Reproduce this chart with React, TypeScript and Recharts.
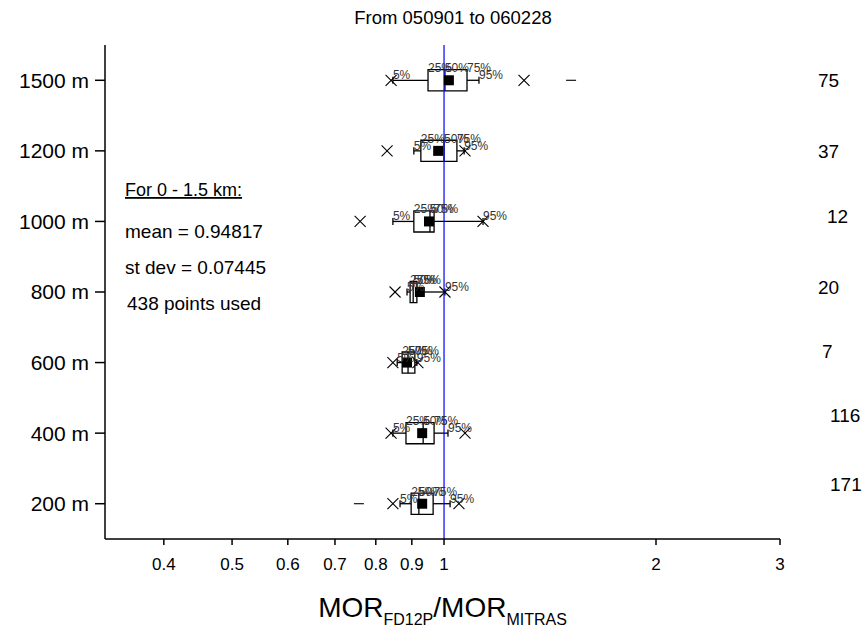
import React from 'react';
import { ScatterChart, Scatter, XAxis, YAxis, ReferenceLine, ReferenceArea } from 'recharts';

// Rows, bottom (index 0) to top (index 6)
const categories = ['200 m', '400 m', '600 m', '800 m', '1000 m', '1200 m', '1500 m'];
const counts = [171, 116, 7, 20, 12, 37, 75];

const p1 = [0.846, 0.841, 0.846, 0.852, 0.760, 0.830, 0.841];
const p5 = [0.866, 0.846, 0.858, 0.886, 0.846, 0.906, 0.846];
const p25 = [0.898, 0.883, 0.872, 0.895, 0.906, 0.927, 0.949];
const p50 = [0.921, 0.934, 0.889, 0.904, 0.955, 1.0, 1.003];
const p75 = [0.965, 0.968, 0.909, 0.915, 0.968, 1.043, 1.078];
const p95 = [1.020, 1.013, 0.915, 1.003, 1.136, 1.068, 1.121];
const p99 = [1.050, 1.071, 0.918, 1.003, 1.136, 1.071, 1.299];
const means = [0.931, 0.931, 0.886, 0.924, 0.952, 0.981, 1.016];
const minVals: (number | null)[] = [0.757, null, null, null, null, null, null];
const maxVals: (number | null)[] = [null, null, null, null, null, null, 1.515];

const xTicks = [0.4, 0.5, 0.6, 0.7, 0.8, 0.9, 1, 2, 3];
const yTicks = [0, 1, 2, 3, 4, 5, 6];

const summaryLines = ['mean = 0.94817', 'st dev = 0.07445', '438 points used'];

// style offsets for the count labels on the right (px)
const countDx = [12, 12, 4, 0, 9, 0, 0];
const countDy = [-19, -18, -11, -5, -5, 0, 0];

const FONT = '"Liberation Sans", Arial, sans-serif';
const NARROW = '"Liberation Sans Narrow", "Liberation Sans", Arial, sans-serif';
const BOX_H = 0.15;
const CAP_H = 0.05;

const idx = categories.map((_, i) => i);

const meanData = idx.map((i) => ({ x: means[i], y: i }));
const crossData = idx.flatMap((i) => [{ x: p1[i], y: i }, { x: p99[i], y: i }]);
const dashData = idx.flatMap((i) => {
  const out: { x: number; y: number }[] = [];
  if (minVals[i] != null) out.push({ x: minVals[i] as number, y: i });
  if (maxVals[i] != null) out.push({ x: maxVals[i] as number, y: i });
  return out;
});
const labelData = idx.flatMap((i) => [
  { x: p5[i], y: i, t: '5%', k: 'end' },
  { x: p25[i], y: i, t: '25%', k: 'mid' },
  { x: p50[i], y: i, t: '50%', k: 'mid' },
  { x: p75[i], y: i, t: '75%', k: 'mid' },
  { x: p95[i], y: i, t: '95%', k: 'end' },
]);

const CrossShape = (p: any) => {
  const { cx, cy } = p;
  const r = 5.5;
  return (
    <g stroke="#000" strokeWidth={1.1}>
      <line x1={cx - r} y1={cy - r} x2={cx + r} y2={cy + r} />
      <line x1={cx - r} y1={cy + r} x2={cx + r} y2={cy - r} />
    </g>
  );
};
const SquareShape = (p: any) => {
  const { cx, cy } = p;
  return <rect x={cx - 5} y={cy - 5} width={10} height={10} fill="#000" />;
};
const DashShape = (p: any) => {
  const { cx, cy } = p;
  return <line x1={cx - 5} y1={cy} x2={cx + 5} y2={cy} stroke="#000" strokeWidth={1.1} />;
};
const LabelShape = (p: any) => {
  const { cx, cy, payload } = p;
  const dy = payload.k === 'mid' ? -8 : -1;
  return (
    <text x={cx} y={cy + dy} fontSize={12} fontFamily={FONT} fill="#333">
      {payload.t}
    </text>
  );
};

const XLabel = (props: any) => {
  const vb = props.viewBox || { x: 105, y: 539, width: 675 };
  const cx = vb.x + vb.width / 2;
  const y = vb.y + 78;
  return (
    <text x={cx} y={y} textAnchor="middle" fontFamily={NARROW} fill="#000">
      <tspan fontSize={28}>MOR</tspan>
      <tspan fontSize={16} dy={8}>FD12P</tspan>
      <tspan fontSize={28} dy={-8}>/MOR</tspan>
      <tspan fontSize={16} dy={8}>MITRAS</tspan>
    </text>
  );
};

const CountTick = (props: any) => {
  const { x, y, payload } = props;
  const i = payload.value as number;
  return (
    <text x={x + 30 + countDx[i]} y={y + countDy[i]} dy="0.35em" fontSize={19} fontFamily={FONT} fill="#000">
      {counts[i]}
    </text>
  );
};

export default function App() {
  return (
    <div style={{ position: 'absolute', left: 0, top: 0, width: 863, height: 630, background: '#fff' }}>
      <ScatterChart width={863} height={630} margin={{ top: 45, right: 0, bottom: 0, left: 0 }}>
        <XAxis
          type="number"
          dataKey="x"
          scale="log"
          domain={[0.33, 3]}
          allowDataOverflow
          ticks={xTicks}
          tickFormatter={(v: number) => String(v)}
          height={91}
          stroke="#000"
          strokeWidth={1.5}
          tickSize={6}
          tickMargin={13}
          tick={{ fill: '#000', fontSize: 17, fontFamily: NARROW }}
          label={<XLabel />}
        />
        <YAxis
          type="number"
          dataKey="y"
          domain={[-0.5, 6.5]}
          ticks={yTicks}
          allowDataOverflow
          width={105}
          stroke="#000"
          strokeWidth={1.5}
          tickSize={10}
          tickMargin={6}
          tickFormatter={(v: number) => categories[v] ?? ''}
          tick={{ fill: '#000', fontSize: 21, fontFamily: FONT }}
        />
        <YAxis
          yAxisId="r"
          orientation="right"
          type="number"
          dataKey="y"
          domain={[-0.5, 6.5]}
          ticks={yTicks}
          allowDataOverflow
          width={83}
          axisLine={false}
          tickLine={false}
          tick={<CountTick />}
        />
        {idx.map((i) => (
          <ReferenceLine
            key={`wl${i}`}
            segment={[{ x: p5[i], y: i }, { x: p25[i], y: i }]}
            stroke="#000"
            strokeWidth={1.3}
          />
        ))}
        {idx.map((i) => (
          <ReferenceLine
            key={`wr${i}`}
            segment={[{ x: p75[i], y: i }, { x: p95[i], y: i }]}
            stroke="#000"
            strokeWidth={1.3}
          />
        ))}
        {idx.map((i) => (
          <ReferenceLine
            key={`c5${i}`}
            segment={[{ x: p5[i], y: i - CAP_H }, { x: p5[i], y: i + CAP_H }]}
            stroke="#000"
            strokeWidth={1.3}
          />
        ))}
        {idx.map((i) => (
          <ReferenceLine
            key={`c95${i}`}
            segment={[{ x: p95[i], y: i - CAP_H }, { x: p95[i], y: i + CAP_H }]}
            stroke="#000"
            strokeWidth={1.3}
          />
        ))}
        {idx.map((i) => (
          <ReferenceArea
            key={`b${i}`}
            x1={p25[i]}
            x2={p75[i]}
            y1={i - BOX_H}
            y2={i + BOX_H}
            fill="#fff"
            fillOpacity={1}
            stroke="#000"
            strokeWidth={1.3}
          />
        ))}
        {idx.map((i) => (
          <ReferenceLine
            key={`m${i}`}
            segment={[{ x: p50[i], y: i - BOX_H }, { x: p50[i], y: i + BOX_H }]}
            stroke="#000"
            strokeWidth={1.3}
          />
        ))}
        <ReferenceLine x={1} stroke="#0000ff" strokeWidth={1.2} />
        <Scatter data={meanData} shape={<SquareShape />} isAnimationActive={false} />
        <Scatter data={crossData} shape={<CrossShape />} isAnimationActive={false} />
        <Scatter data={dashData} shape={<DashShape />} isAnimationActive={false} />
        <Scatter data={labelData} shape={<LabelShape />} isAnimationActive={false} />
      </ScatterChart>
      <svg
        width={863}
        height={630}
        style={{ position: 'absolute', left: 0, top: 0, pointerEvents: 'none' }}
      >
        <text x={453} y={24} textAnchor="middle" fontSize={18.5} fontFamily={FONT} fill="#000">
          From 050901 to 060228
        </text>
        <text x={125} y={196} fontSize={18} fontFamily={FONT} fill="#000" textDecoration="underline">
          For 0 - 1.5 km:
        </text>
        {summaryLines.map((s, k) => (
          <text key={s} x={k === 2 ? 127 : 125} y={238 + k * 36} fontSize={19} fontFamily={FONT} fill="#000">
            {s}
          </text>
        ))}
      </svg>
    </div>
  );
}
